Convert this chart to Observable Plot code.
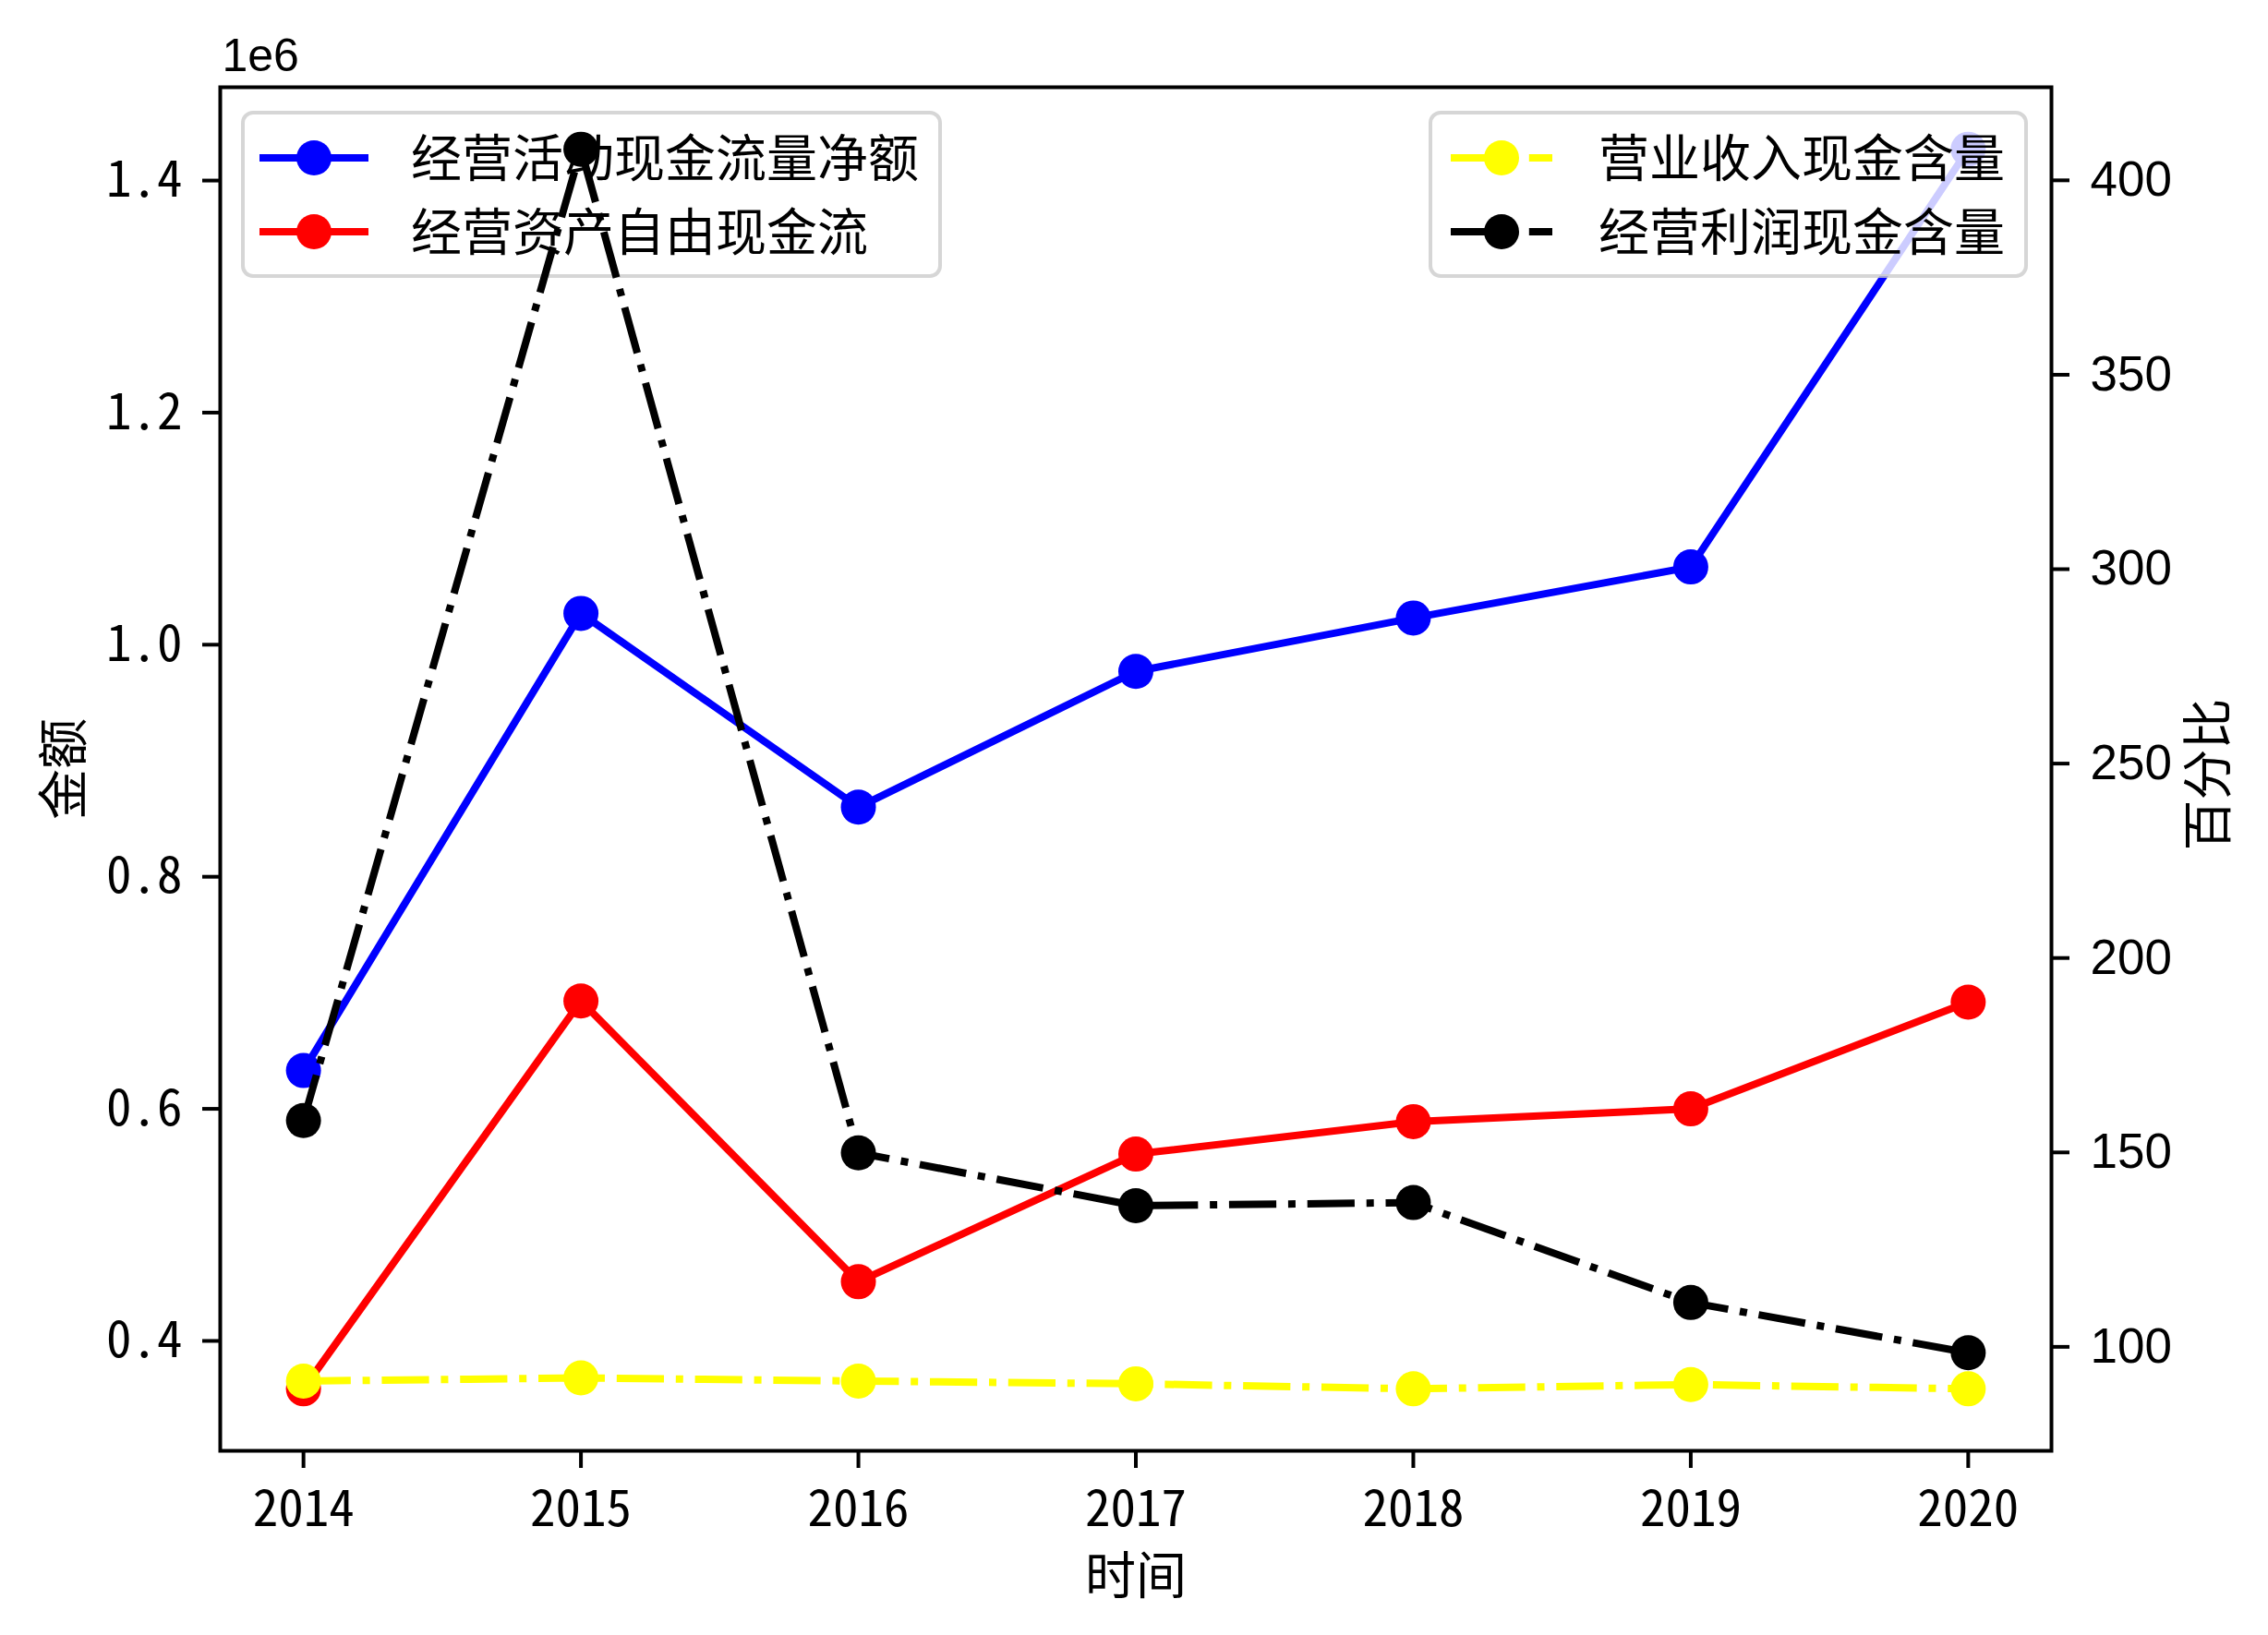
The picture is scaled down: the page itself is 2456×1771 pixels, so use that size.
<!DOCTYPE html>
<html>
<head>
<meta charset="utf-8">
<script src="https://cdn.jsdelivr.net/npm/d3@7"></script>
<script src="https://cdn.jsdelivr.net/npm/@observablehq/plot@0.6"></script>
<style>
  html, body { margin: 0; padding: 0; background: #ffffff; }
  #chart svg { font-feature-settings: "hwid"; }
</style>
</head>
<body>
<div id="chart"></div>
<script>
// ---- data ----
const years = [2014, 2015, 2016, 2017, 2018, 2019, 2020];
// left axis (金额, ×1e6)
const operatingNetCashFlow = [633000, 1027000, 860000, 977000, 1023000, 1067000, 1427000];
const operatingFreeCashFlow = [358700, 693000, 451000, 561000, 589000, 600000, 692000];
// right axis (百分比)
const revenueCashContent = [91.2, 92.0, 91.2, 90.5, 89.2, 90.3, 89.2];
const profitCashContent = [158.2, 408.0, 149.9, 136.3, 137.1, 111.4, 98.5];

const seriesNames = ["经营活动现金流量净额", "经营资产自由现金流", "营业收入现金含量", "经营利润现金含量"];
const seriesColors = ["blue", "red", "yellow", "black"];

const leftTicks = [400000, 600000, 800000, 1000000, 1200000, 1400000];
const rightTicks = [100, 150, 200, 250, 300, 350, 400];
const xTicks = years;

// matplotlib-like 5% margins
function padded(values, frac) {
  const lo = d3.min(values), hi = d3.max(values), r = hi - lo;
  return [lo - frac * r, hi + frac * r];
}
const leftDomain = padded(operatingNetCashFlow.concat(operatingFreeCashFlow), 0.05);
const rightDomain = padded(revenueCashContent.concat(profitCashContent), 0.05);
const xDomain = padded(years, 0.05);

// map the right (percent) axis onto the left scale
const toLeft = d3.scaleLinear().domain(rightDomain).range(leftDomain);

const table = years.map((year, i) => ({
  year,
  ocf: operatingNetCashFlow[i],
  fcf: operatingFreeCashFlow[i],
  rev: toLeft(revenueCashContent[i]),
  prof: toLeft(profitCashContent[i])
}));

const CJK = "'Noto Sans CJK SC', 'Noto Sans', sans-serif";
const LAT = "'Liberation Sans', Arial, sans-serif";
const FS = 55;
const LW = 8;
const R = 19;
const DASHDOT = "51.2,12.8,8,12.8";

function legendMark(box, entries) {
  return () => {
    const g = d3.create("svg:g").attr("aria-label", "legend");
    g.append("rect")
      .attr("x", box.x).attr("y", box.y)
      .attr("width", box.w).attr("height", box.h)
      .attr("rx", 11).attr("ry", 11)
      .attr("fill", "white").attr("fill-opacity", 0.8)
      .attr("stroke", "#cccccc").attr("stroke-opacity", 0.8)
      .attr("stroke-width", 4);
    entries.forEach((e, i) => {
      const cy = box.y + 49 + i * 80;
      const x0 = box.x + 22, x1 = x0 + 110;
      g.append("line")
        .attr("x1", x0).attr("x2", x1).attr("y1", cy).attr("y2", cy)
        .attr("stroke", e.color).attr("stroke-width", LW)
        .attr("stroke-dasharray", e.dash || null)
        .attr("stroke-linecap", e.dash ? "butt" : "square");
      g.append("circle")
        .attr("cx", (x0 + x1) / 2).attr("cy", cy).attr("r", R)
        .attr("fill", e.color);
      g.append("text")
        .attr("x", box.x + 182).attr("y", cy).attr("dy", "0.36em")
        .attr("text-anchor", "start")
        .attr("font-family", CJK).attr("font-size", FS)
        .attr("fill", "black")
        .text(e.name);
    });
    return g.node();
  };
}

const chart = Plot.plot({
  width: 2456,
  height: 1771,
  marginLeft: 238,
  marginRight: 235,
  marginTop: 94,
  marginBottom: 200,
  style: { fontFamily: CJK, fontSize: FS + "px", background: "white", color: "black" },
  x: { domain: xDomain, label: null },
  y: { domain: leftDomain, label: null },
  marks: [
    // left-axis series
    Plot.line(table, { x: "year", y: "ocf", stroke: seriesColors[0], strokeWidth: LW, strokeLinejoin: "round" }),
    Plot.dot(table, { x: "year", y: "ocf", fill: seriesColors[0], r: R }),
    Plot.line(table, { x: "year", y: "fcf", stroke: seriesColors[1], strokeWidth: LW, strokeLinejoin: "round" }),
    Plot.dot(table, { x: "year", y: "fcf", fill: seriesColors[1], r: R }),
    legendMark({ x: 263, y: 122, w: 755, h: 177 }, [
      { name: seriesNames[0], color: seriesColors[0] },
      { name: seriesNames[1], color: seriesColors[1] }
    ]),
    // right-axis series
    Plot.line(table, { x: "year", y: "rev", stroke: seriesColors[2], strokeWidth: LW, strokeDasharray: DASHDOT, strokeLinecap: "butt", strokeLinejoin: "round" }),
    Plot.dot(table, { x: "year", y: "rev", fill: seriesColors[2], r: R }),
    Plot.line(table, { x: "year", y: "prof", stroke: seriesColors[3], strokeWidth: LW, strokeDasharray: DASHDOT, strokeLinecap: "butt", strokeLinejoin: "round" }),
    Plot.dot(table, { x: "year", y: "prof", fill: seriesColors[3], r: R }),
    legendMark({ x: 1549, y: 122, w: 645, h: 177 }, [
      { name: seriesNames[2], color: seriesColors[2], dash: DASHDOT },
      { name: seriesNames[3], color: seriesColors[3], dash: DASHDOT }
    ]),
    // axes
    Plot.frame({ stroke: "black", strokeWidth: 4 }),
    Plot.axisX(xTicks, { anchor: "bottom", tickSize: 19, tickPadding: 23, tickFormat: d => String(d), fontSize: FS, fontFamily: CJK, strokeWidth: 4, label: null }),
    Plot.axisY(leftTicks, { anchor: "left", tickSize: 19, tickPadding: 22, tickFormat: d => (d / 1e6).toFixed(1), fontSize: FS, fontFamily: CJK, strokeWidth: 4, label: null }),
    Plot.axisY(rightTicks.map(toLeft), { anchor: "right", tickSize: 19, tickPadding: 23, tickFormat: d => String(Math.round(toLeft.invert(d))), fontSize: 53, fontFamily: LAT, strokeWidth: 4, label: null }),
    // axis titles
    Plot.text(["金额"], { frameAnchor: "left", dx: -168, rotate: -90, textAnchor: "middle", lineAnchor: "middle", fontSize: FS, fontFamily: CJK, fill: "black" }),
    Plot.text(["百分比"], { frameAnchor: "right", dx: 171, dy: 6, rotate: -90, textAnchor: "middle", lineAnchor: "middle", fontSize: FS, fontFamily: CJK, fill: "black" }),
    Plot.text(["时间"], { frameAnchor: "bottom", dy: 137, textAnchor: "middle", lineAnchor: "middle", fontSize: FS, fontFamily: CJK, fill: "black" }),
    Plot.text(["1e6"], { frameAnchor: "top-left", dy: -34, dx: 2, textAnchor: "start", lineAnchor: "middle", fontSize: 50, fontFamily: LAT, fill: "black" })
  ]
});

document.getElementById("chart").appendChild(chart);
</script>
</body>
</html>
